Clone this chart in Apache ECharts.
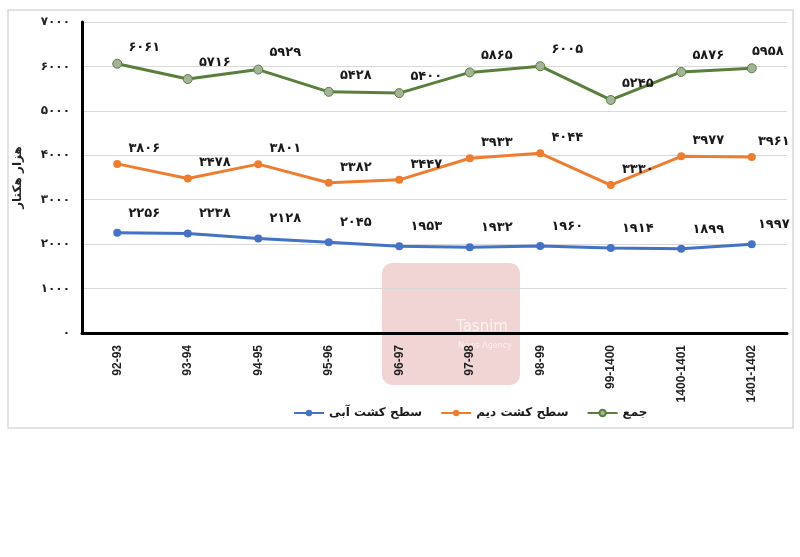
<!DOCTYPE html>
<html>
<head>
<meta charset="utf-8">
<script src="https://cdn.jsdelivr.net/npm/echarts@6/dist/echarts.min.js"></script>
<style>
html,body{margin:0;padding:0;background:#fff;}
#chart{width:800px;height:557px;}
</style>
</head>
<body>
<div id="chart"></div>
<script>
var categories = ['92-93','93-94','94-95','95-96','96-97','97-98','98-99','99-1400','1400-1401','1401-1402'];
var irrigated = [2256, 2238, 2128, 2045, 1953, 1932, 1960, 1914, 1899, 1997];
var rainfed = [3806, 3478, 3801, 3382, 3447, 3933, 4044, 3330, 3977, 3961];
var total = [6061, 5716, 5929, 5428, 5400, 5865, 6005, 5245, 5876, 5958];
var seriesNames = ['سطح کشت آبی', 'سطح کشت دیم', 'جمع'];
var yAxisName = 'هزار هکتار';

function fa(v) {
  return String(v).replace(/[0-9]/g, function (d) { return '۰۱۲۳۴۵۶۷۸۹'[+d]; });
}

var FONT = '"DejaVu Sans", "Noto Sans", sans-serif';
function labelCfg(dy) {
  return {
    show: true, position: 'top', offset: [27, dy],
    color: '#1a1a1a', fontWeight: 'bold', fontSize: 13, fontFamily: FONT,
    formatter: function (p) { return fa(p.value); }
  };
}
// last point labels sit closer to the point so they stay inside the frame
function withLastOffset(arr, dx, dy) {
  return arr.map(function (v, i) {
    return i === arr.length - 1 ? { value: v, label: { offset: [dx, dy] } } : v;
  });
}

var chart = echarts.init(document.getElementById('chart'));
chart.setOption({
  backgroundColor: '#fff',
  animation: false,
  graphic: [
    { type: 'rect', z: -10, shape: { x: 8, y: 10, width: 785, height: 418 },
      style: { fill: 'none', stroke: '#d9d9d9', lineWidth: 1.5 } },
    { type: 'rect', z: -5, shape: { x: 382, y: 263, width: 138, height: 122, r: 10 },
      style: { fill: 'rgba(200,90,90,0.26)' } },
    { type: 'text', z: -4, left: 456, top: 320,
      style: { text: 'Tasnim', fill: 'rgba(255,255,255,0.7)', font: '15px "DejaVu Sans", sans-serif' } },
    { type: 'text', z: -4, left: 458, top: 342,
      style: { text: 'News Agency', fill: 'rgba(255,255,255,0.65)', font: '8px "DejaVu Sans", sans-serif' } }
  ],
  grid: { left: 82, right: 13, top: 22, bottom: 224, containLabel: false },
  legend: {
    data: seriesNames, left: 288, top: 402, itemWidth: 30, itemHeight: 8, itemGap: 18,
    textStyle: { fontFamily: FONT, fontWeight: 'bold', fontSize: 12, color: '#1a1a1a' }
  },
  xAxis: {
    type: 'category', data: categories, boundaryGap: true,
    axisLine: { lineStyle: { color: '#000', width: 3 } },
    axisTick: { show: false },
    axisLabel: { rotate: 90, margin: 12, color: '#222', fontWeight: 'bold', fontSize: 12, fontFamily: '"Liberation Sans", Arial, sans-serif' }
  },
  yAxis: {
    type: 'value', min: 0, max: 7000, interval: 1000,
    name: yAxisName, nameLocation: 'middle', nameGap: 58, nameRotate: 90,
    nameTextStyle: { fontFamily: FONT, fontWeight: 'bold', fontSize: 12, color: '#222' },
    axisLine: { show: true, lineStyle: { color: '#000', width: 3 } },
    axisTick: { show: false },
    splitLine: { lineStyle: { color: '#d9d9d9', width: 1 } },
    axisLabel: { margin: 12, color: '#222', fontWeight: 'bold', fontSize: 12, fontFamily: FONT,
      formatter: function (v) { return fa(v); } }
  },
  series: [
    { name: seriesNames[0], type: 'line', data: withLastOffset(irrigated, 22, -4), symbol: 'circle', symbolSize: 8,
      lineStyle: { color: '#4472C4', width: 3 }, itemStyle: { color: '#4472C4' }, label: labelCfg(-4) },
    { name: seriesNames[1], type: 'line', data: withLastOffset(rainfed, 22, 0), symbol: 'circle', symbolSize: 8,
      lineStyle: { color: '#ED7D31', width: 3 }, itemStyle: { color: '#ED7D31' }, label: labelCfg(0) },
    { name: seriesNames[2], type: 'line', data: withLastOffset(total, 16, 0), symbol: 'circle', symbolSize: 9,
      lineStyle: { color: '#5a7f3c', width: 3 },
      itemStyle: { color: '#a3b397', borderColor: '#5a7f3c', borderWidth: 1 }, label: labelCfg(0) }
  ]
});
</script>
</body>
</html>
